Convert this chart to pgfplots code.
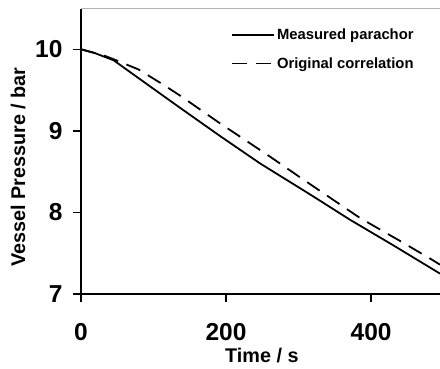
\documentclass[border=0pt]{standalone}
\usepackage{pgfplots}
\pgfplotsset{compat=1.18}
\usepackage{fontspec}
\setmainfont{Liberation Sans}
\begin{document}
\begin{tikzpicture}
\useasboundingbox (-81pt,-75pt) rectangle (359pt,294pt);
\begin{axis}[
  at={(0,0)}, anchor=south west,
  scale only axis,
  width=359pt, height=285.5pt,
  xmin=0, xmax=495, ymin=7, ymax=10.5,
  axis x line*=bottom, axis y line*=left,
  axis line style={-, line width=1.3pt},
  every tick/.style={black, line width=1.3pt},
  tick align=outside, major tick length=8pt,
  xtick={0,200,400}, ytick={7,8,9,10},
  /pgf/number format/assume math mode=true,
  ticklabel style={font=\bfseries\fontsize{24.5}{25}\selectfont},
  xticklabel style={yshift=-18pt},
  yticklabel style={xshift=-7pt},
  xlabel={Time / s},
  ylabel={Vessel Pressure / bar},
  label style={font=\bfseries\fontsize{19.8}{22}\selectfont},
  xlabel style={at={(axis description cs:0.504,-0.217)}, anchor=center},
  ylabel style={at={(axis description cs:-0.175,0.445)}, anchor=center},
  clip=false,
  legend style={at={(0.418,0.935)}, anchor=north west, draw=none, fill=none,
    font=\bfseries\fontsize{14.8}{17}\selectfont, row sep=12pt, inner sep=0pt},
  legend cell align=left,
  legend image code/.code={\draw[#1] (0pt,0pt) -- (42pt,0pt);},
]
\draw[gray!60, line width=1pt] (rel axis cs:0,1) -- (rel axis cs:1,1);
\addplot[black, line width=1.8pt] coordinates {
(0,10) (20,9.95) (45,9.865) (100,9.515) (137,9.28) (192,8.935) (247,8.60) (316,8.22) (371,7.91) (430,7.6) (495,7.25)
};
\addlegendentry{Measured parachor}
\addplot[black, line width=1.8pt, dash pattern=on 15pt off 9pt] coordinates {
(0,10) (30,9.93) (50,9.86) (79,9.754) (111,9.58) (137,9.43) (192,9.09) (258,8.70) (307,8.40) (385,7.93) (440,7.65) (484,7.42) (495,7.36)
};
\addlegendentry{Original correlation}
\end{axis}
\end{tikzpicture}
\end{document}
